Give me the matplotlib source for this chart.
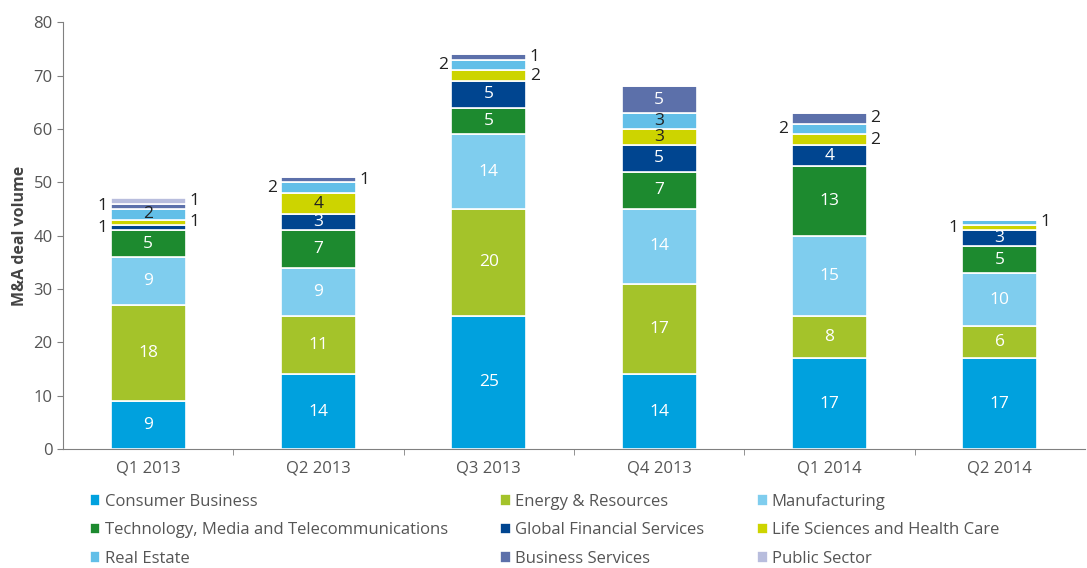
import matplotlib.pyplot as plt
import numpy as np

plt.rcParams['font.family'] = ['Open Sans', 'DejaVu Sans']

quarters = ["Q1 2013", "Q2 2013", "Q3 2013", "Q4 2013", "Q1 2014", "Q2 2014"]
sectors = ["Consumer Business", "Energy & Resources", "Manufacturing",
           "Technology, Media and Telecommunications", "Global Financial Services",
           "Life Sciences and Health Care", "Real Estate", "Business Services",
           "Public Sector"]

consumer = [9, 14, 25, 14, 17, 17]
energy = [18, 11, 20, 17, 8, 6]
manufacturing = [9, 9, 14, 14, 15, 10]
tmt = [5, 7, 5, 7, 13, 5]
financial = [1, 3, 5, 5, 4, 3]
life_sciences = [1, 4, 2, 3, 2, 1]
real_estate = [2, 2, 2, 3, 2, 1]
business = [1, 1, 1, 5, 2, 0]
public = [1, 0, 0, 0, 0, 0]

series = [consumer, energy, manufacturing, tmt, financial,
          life_sciences, real_estate, business, public]
colors = ["#00a1de", "#a4c32a", "#7fcdee", "#1d8a2f", "#004590",
          "#cdd400", "#62bfe8", "#5c70aa", "#b8bddd"]
text_colors = ["white", "white", "white", "white", "white",
               "#222222", "#222222", "white", "#222222"]

# where labels of thin segments go: (series index, quarter index) -> side
outside = {(4, 0): "l", (5, 0): "r", (7, 0): "l", (8, 0): "r",
           (6, 1): "l", (7, 1): "r",
           (5, 2): "r", (6, 2): "l", (7, 2): "r",
           (5, 4): "r", (6, 4): "l", (7, 4): "r",
           (5, 5): "l", (6, 5): "r"}

fs = 12

fig = plt.figure(figsize=(10.87, 5.68), dpi=100)
ax = fig.add_axes([0.058, 0.2095, 0.94, 0.7515])

x = np.arange(len(quarters))
width = 0.44
bottom = np.zeros(len(quarters))
handles = []
for i, vals in enumerate(series):
    vals = np.array(vals, dtype=float)
    b = ax.bar(x, vals, width, bottom=bottom, color=colors[i],
               edgecolor="white", linewidth=1.2, label=sectors[i])
    handles.append(b)
    for j, v in enumerate(vals):
        if v == 0:
            continue
        yc = bottom[j] + v / 2
        side = outside.get((i, j))
        if side == "l":
            ax.text(x[j] - width / 2 - 0.02, yc, f"{int(v)}", ha="right",
                    va="center", fontsize=fs + 0.5, color="#222222")
        elif side == "r":
            ax.text(x[j] + width / 2 + 0.02, yc, f"{int(v)}", ha="left",
                    va="center", fontsize=fs + 0.5, color="#222222")
        else:
            ax.text(x[j], yc, f"{int(v)}", ha="center", va="center",
                    fontsize=fs + 0.5, color=text_colors[i])
    bottom += vals

ax.set_xlim(-0.5, len(quarters) - 0.5)
ax.set_ylim(0, 80)
ax.set_yticks(range(0, 81, 10))
ax.set_xticks(x)
ax.set_xticklabels(quarters)
ax.set_xticks(np.arange(0.5, len(quarters) - 1, 1), minor=True)
ax.tick_params(axis="x", which="major", length=0, pad=8, labelsize=fs,
               labelcolor="#555555")
ax.tick_params(axis="x", which="minor", length=4, color="#808080", direction="out")
ax.tick_params(axis="y", length=4, color="#808080", labelsize=fs,
               labelcolor="#555555")
for s in ["top", "right"]:
    ax.spines[s].set_visible(False)
for s in ["left", "bottom"]:
    ax.spines[s].set_color("#808080")
ax.set_ylabel("M&A deal volume", fontsize=fs - 0.5, fontweight="bold",
              color="#444444", labelpad=4)

# legend laid out row by row in 3 columns
order = [0, 3, 6, 1, 4, 7, 2, 5, 8]
leg = ax.legend([handles[k] for k in order], [sectors[k] for k in order],
                ncol=3, loc="upper left", bbox_to_anchor=(0.026, -0.105),
                frameon=False, fontsize=fs, handlelength=0.65,
                handleheight=0.65, handletextpad=0.25, columnspacing=3.15,
                labelspacing=0.75, borderaxespad=0, borderpad=0)
for t in leg.get_texts():
    t.set_color("#555555")

fig.savefig("out.png", dpi=100)
